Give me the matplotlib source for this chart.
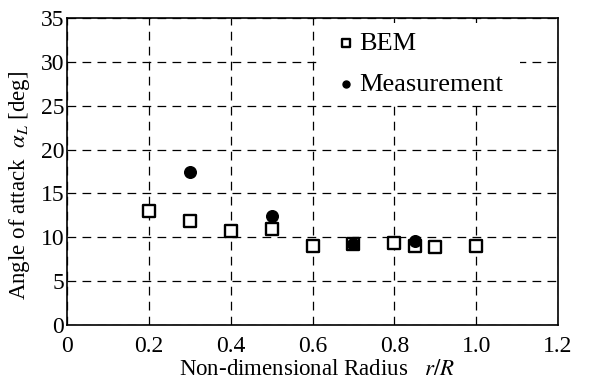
import numpy as np
import matplotlib
matplotlib.use("Agg")
import matplotlib.pyplot as plt
from matplotlib.patches import Rectangle

# data
bem_r = [0.2, 0.3, 0.4, 0.5, 0.6, 0.7, 0.8, 0.85, 0.9, 1.0]
bem_alpha = [13.0, 11.8, 10.7, 10.95, 9.05, 9.2, 9.4, 9.0, 8.9, 9.0]
meas_r = [0.3, 0.5, 0.7, 0.85]
meas_alpha = [17.5, 12.4, 9.2, 9.6]

xticks = [0, 0.2, 0.4, 0.6, 0.8, 1.0, 1.2]
xticklabels = ['0', '0.2', '0.4', '0.6', '0.8', '1.0', '1.2']
yticks = [0, 5, 10, 15, 20, 25, 30, 35]

plt.rcParams['font.family'] = ['Liberation Serif', 'DejaVu Serif']
plt.rcParams['mathtext.fontset'] = 'stix'

fig = plt.figure(figsize=(6, 3.89), dpi=100)
ax = fig.add_axes([67/600, 1 - 325/389, 491/600, 307/389])

ax.scatter(bem_r, bem_alpha, marker='s', s=80, facecolors='white',
           edgecolors='black', linewidths=1.7, zorder=3, label='BEM')
ax.scatter(meas_r, meas_alpha, marker='o', s=70, color='black',
           zorder=4, label='Measurement')

ax.set_xlim(0, 1.2)
ax.set_ylim(0, 35)
ax.set_xticks(xticks)
ax.set_xticklabels(xticklabels)
ax.set_yticks(yticks)
ax.tick_params(length=0, labelsize=17)
ax.tick_params(axis='x', pad=8)
ax.tick_params(axis='y', pad=2)
ax.grid(True, color='black', linestyle=(0, (7, 5)), linewidth=0.9)
for sp in ax.spines.values():
    sp.set_linewidth(1.2)

# white area behind the legend hides the grid there
ax.add_patch(Rectangle((0.509, 0.72), 0.414, 0.265, transform=ax.transAxes,
                       facecolor='white', edgecolor='none', zorder=2))

ax.set_xlabel('Non-dimensional Radius   $r/R$', fontsize=16.5)
ax.xaxis.set_label_coords(0.51, -0.112)
ax.set_ylabel(r'Angle of attack  $\alpha_L$ [deg]', fontsize=16.5)
ax.yaxis.set_label_coords(-0.072, 0.455)

leg = ax.legend(loc='upper left', bbox_to_anchor=(0.52, 0.99), frameon=False,
                fontsize=19, handletextpad=0.0, handlelength=1.0,
                borderaxespad=0, labelspacing=0.65, markerscale=0.6)
leg.set_zorder(5)

fig.savefig('out.png', dpi=100)
